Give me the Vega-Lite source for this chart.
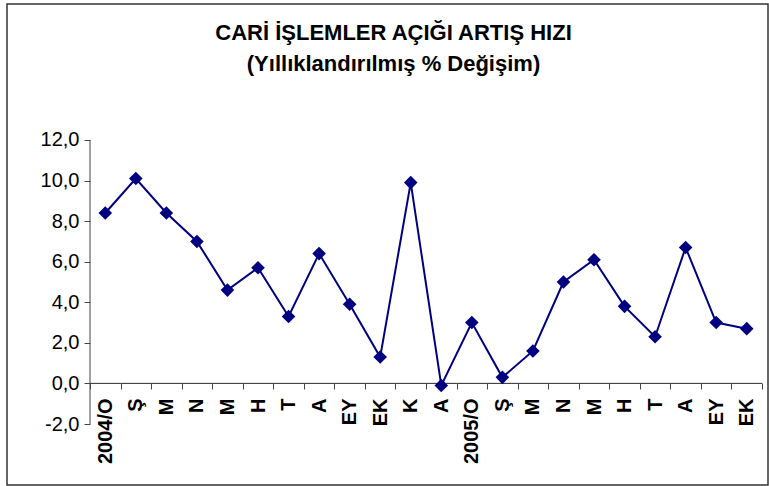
{
  "$schema": "https://vega.github.io/schema/vega-lite/v6.json",
  "width": 761,
  "height": 481,
  "autosize": {"type": "none"},
  "padding": {"left": 7, "top": 4, "right": 1, "bottom": 1},
  "background": "white",
  "config": {
    "font": "Liberation Sans",
    "view": {"stroke": "#333333", "strokeWidth": 1.5}
  },
  "title": {
    "text": ["CARİ İŞLEMLER AÇIĞI ARTIŞ HIZI", "(Yıllıklandırılmış % Değişim)"],
    "frame": "group",
    "anchor": "middle",
    "dx": 6,
    "offset": -72,
    "fontSize": 22,
    "fontWeight": "bold",
    "lineHeight": 31,
    "color": "black"
  },
  "data": {
    "values": [
      {"key": "2004/O|1", "deger": 8.4},
      {"key": "Ş|2", "deger": 10.1},
      {"key": "M|3", "deger": 8.4},
      {"key": "N|4", "deger": 7.0},
      {"key": "M|5", "deger": 4.6},
      {"key": "H|6", "deger": 5.7},
      {"key": "T|7", "deger": 3.3},
      {"key": "A|8", "deger": 6.4},
      {"key": "EY|9", "deger": 3.9},
      {"key": "EK|10", "deger": 1.3},
      {"key": "K|11", "deger": 9.9},
      {"key": "A|12", "deger": -0.1},
      {"key": "2005/O|13", "deger": 3.0},
      {"key": "Ş|14", "deger": 0.3},
      {"key": "M|15", "deger": 1.6},
      {"key": "N|16", "deger": 5.0},
      {"key": "M|17", "deger": 6.1},
      {"key": "H|18", "deger": 3.8},
      {"key": "T|19", "deger": 2.3},
      {"key": "A|20", "deger": 6.7},
      {"key": "EY|21", "deger": 3.0},
      {"key": "EK|22", "deger": 2.7}
    ]
  },
  "layer": [
    {
      "mark": {"type": "rect", "fill": null, "stroke": "#444444", "strokeWidth": 1},
      "encoding": {
        "x": {"field": "key", "type": "ordinal", "sort": null,
              "scale": {"type": "band", "paddingInner": 0, "paddingOuter": 0, "range": [83, 755]},
              "axis": {"orient": "bottom", "offset": -102, "title": null, "domain": false,
                       "tickBand": "extent", "tickSize": 6, "tickColor": "#444444",
                       "labelAngle": -90, "labelAlign": "right", "labelBaseline": "middle",
                       "labelPadding": 9, "labelFontSize": 20, "labelFontWeight": "bold",
                       "labelColor": "black",
                       "labelExpr": "isString(datum.value) ? split(datum.value, '|')[0] : ''"}},
        "y": {"datum": 0, "type": "quantitative",
              "scale": {"domain": [-5.007, 18.704], "nice": false, "zero": false},
              "axis": {"offset": -83, "title": null, "domain": false, "grid": false,
                       "values": [-2, 0, 2, 4, 6, 8, 10, 12],
                       "tickSize": 6, "tickColor": "#444444", "labelPadding": 5,
                       "labelFontSize": 20, "labelColor": "black",
                       "labelExpr": "replace(replace(format(datum.value, '.1f'), '.', ','), '\u2212', '-')"}},
        "y2": {"datum": 0}
      }
    },
    {
      "transform": [{"filter": "datum.key == '2004/O|1'"}],
      "mark": {"type": "rule", "stroke": "#444444", "strokeWidth": 1},
      "encoding": {
        "x": {"field": "key", "type": "ordinal", "sort": null, "bandPosition": 0},
        "y": {"datum": -2, "type": "quantitative"},
        "y2": {"datum": 12}
      }
    },
    {
      "mark": {"type": "line", "color": "#000080", "strokeWidth": 2},
      "encoding": {
        "x": {"field": "key", "type": "ordinal", "sort": null},
        "y": {"field": "deger", "type": "quantitative"}
      }
    },
    {
      "mark": {"type": "point", "shape": "diamond", "filled": true, "size": 185, "color": "#000080", "opacity": 1},
      "encoding": {
        "x": {"field": "key", "type": "ordinal", "sort": null},
        "y": {"field": "deger", "type": "quantitative"}
      }
    }
  ]
}
